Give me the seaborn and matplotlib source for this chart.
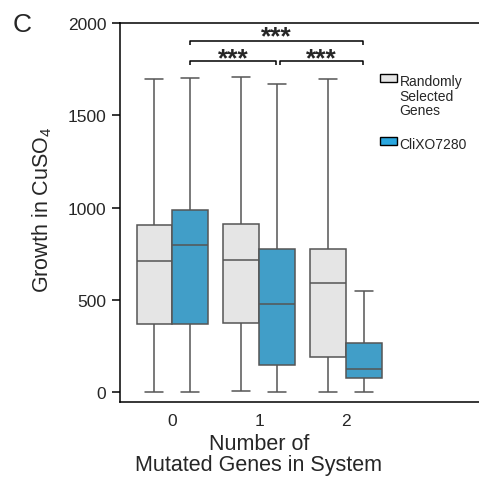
import matplotlib
matplotlib.use("Agg")
import matplotlib.pyplot as plt
from matplotlib.patches import Patch
import seaborn as sns
import pandas as pd

# ---- data (five-number summaries) ----
groups = ["0", "1", "2"]
series = ["Randomly\nSelected\nGenes", "CliXO7280"]
rand_min = [0, 7, 0]
rand_q1 = [368, 375, 191]
rand_med = [710, 718, 594]
rand_q3 = [906, 912, 776]
rand_max = [1697, 1710, 1697]
cli_min = [3, 0, 0]
cli_q1 = [370, 148, 76]
cli_med = [798, 478, 126]
cli_q3 = [989, 776, 265]
cli_max = [1703, 1668, 549]
yticks = [0, 500, 1000, 1500, 2000]
sig_label = "***"

rows = []
for i, g in enumerate(groups):
    for v in (rand_min[i], rand_q1[i], rand_med[i], rand_q3[i], rand_max[i]):
        rows.append((g, series[0], v))
    for v in (cli_min[i], cli_q1[i], cli_med[i], cli_q3[i], cli_max[i]):
        rows.append((g, series[1], v))
df = pd.DataFrame(rows, columns=["group", "set", "value"])

sns.set_style("ticks")
plt.rcParams["font.family"] = ["Liberation Sans", "DejaVu Sans"]
plt.rcParams["mathtext.fontset"] = "custom"
plt.rcParams["mathtext.rm"] = "Liberation Sans"
plt.rcParams["mathtext.it"] = "Liberation Sans:italic"

grey = "#e5e5e5"
blue = "#2aa7df"
edge = "#555555"

fig = plt.figure(figsize=(4.79, 4.81), dpi=100)
ax = fig.add_axes([120 / 479, 78 / 481, 359 / 479, 379 / 481])

sns.boxplot(data=df, x="group", y="value", hue="set", order=groups,
            hue_order=series, palette=[grey, blue], width=0.82, gap=0,
            whis=(0, 100), linecolor=edge, linewidth=1.1, fliersize=0,
            legend=False, ax=ax)

ax.set_xlim(-0.6, 3.53)
ax.set_ylim(-52, 2000)
ax.set_yticks(yticks)
ax.set_yticklabels([str(t) for t in yticks])
for s in ["left", "top", "bottom"]:
    ax.spines[s].set_linewidth(1.1)
    ax.spines[s].set_color("black")
ax.spines["right"].set_visible(False)
ax.tick_params(axis="y", length=5.8, width=1.1, color="black", pad=4, labelsize=12.5)
ax.tick_params(axis="x", length=0, pad=8, labelsize=12.5)

ax.set_xlabel("Number of\nMutated Genes in System", fontsize=15.5, linespacing=0.95)
ax.xaxis.set_label_coords(0.387, -0.083)
ax.set_ylabel("Growth in CuSO$_4$", fontsize=15.5)
ax.yaxis.set_label_coords(-0.185, 0.51)

# significance brackets
def bracket(x0, x1, y, drop):
    ax.plot([x0, x0, x1, x1], [y - drop, y, y, y - drop], color="black",
            lw=1.1, solid_capstyle="butt", clip_on=False)

bracket(0.2, 2.2, 1903, 22)
bracket(0.2, 1.2, 1795, 22)
bracket(1.24, 2.2, 1795, 22)
ax.text(1.2, 1892, sig_label, ha="center", va="baseline", fontsize=19, fontweight="bold")
ax.text(0.7, 1772, sig_label, ha="center", va="baseline", fontsize=19, fontweight="bold")
ax.text(1.72, 1772, sig_label, ha="center", va="baseline", fontsize=19, fontweight="bold")

handles = [Patch(facecolor=grey, edgecolor="black", lw=1.0),
           Patch(facecolor=blue, edgecolor="black", lw=1.0)]
leg = ax.legend(handles, series, loc="upper left",
                bbox_to_anchor=(380 / 479, 1 - 75 / 481),
                bbox_transform=fig.transFigure, frameon=False, fontsize=10,
                handlelength=1.25, handleheight=0.5, handletextpad=0.15,
                borderpad=0, borderaxespad=0, labelspacing=1.45)
for t in leg.get_texts():
    t.set_linespacing(1.05)
for col in leg._legend_handle_box.get_children():
    for hp in col.get_children():
        hp.align = "top"

fig.text(22 / 479, 1 - 25 / 481, "C", fontsize=19, ha="center", va="center")

fig.savefig("out.png", dpi=100)
